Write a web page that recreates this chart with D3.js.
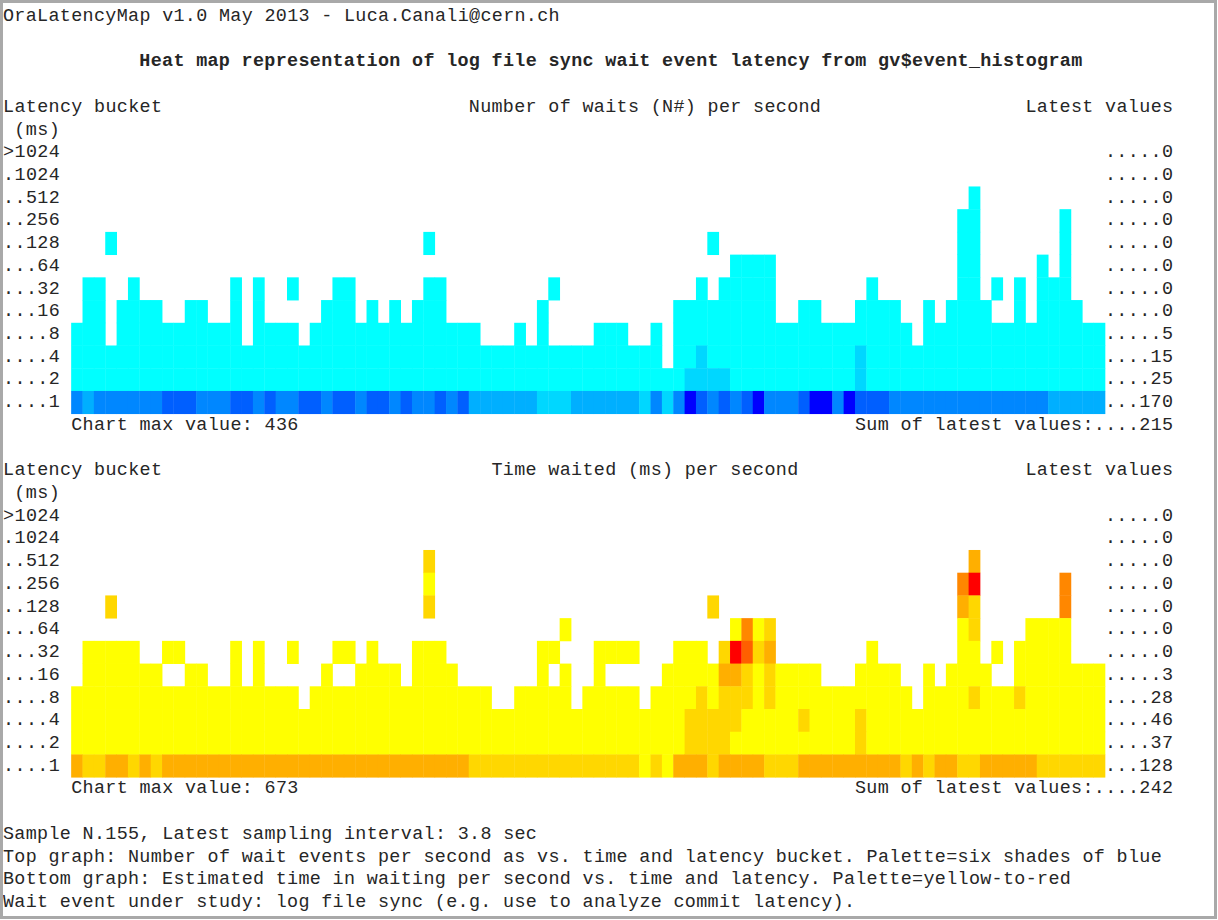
<!DOCTYPE html>
<html>
<head>
<meta charset="utf-8">
<script src="https://cdn.jsdelivr.net/npm/d3@7"></script>
<style>
  body { margin: 0; background: #fff; }
  svg text { font-family: "Liberation Mono", "DejaVu Sans Mono", monospace; white-space: pre; }
</style>
</head>
<body>
<script>
// latency buckets, top row of the map first
const buckets = ['>1024', '.1024', '..512', '..256', '..128', '...64', '...32', '...16', '....8', '....4', '....2', '....1'];

// colour level (0 = no waits, 1..6 = palette shade) per bucket, one digit per sample (91 samples)
const waitsLevels = [
  '0000000000 0000000000 0000000000 0000000000 0000000000 0000000000 0000000000 0000000000 0000000000 0',
  '0000000000 0000000000 0000000000 0000000000 0000000000 0000000000 0000000000 0000000000 0000000000 0',
  '0000000000 0000000000 0000000000 0000000000 0000000000 0000000000 0000000000 0000000001 0000000000 0',
  '0000000000 0000000000 0000000000 0000000000 0000000000 0000000000 0000000000 0000000011 0000000100 0',
  '0001000000 0000000000 0000000000 0100000000 0000000000 0000001000 0000000000 0000000011 0000000100 0',
  '0000000000 0000000000 0000000000 0000000000 0000000000 0000000011 1100000000 0000000011 0000010100 0',
  '0110010000 0000101001 0001100000 0110000000 0010000000 0000010111 1100000000 1000000011 0101011100 0',
  '0110111100 1100101000 0011101010 1110000000 0100000000 0001111111 1100110001 1110010111 1001011110 0',
  '1110111111 1111101111 0111111111 1111110001 0100001110 0101111111 1111111111 1111011111 1111111111 1',
  '1111111111 1111111111 1111111111 1111111111 1111111111 1101121111 1111111112 1111111111 1111111111 1',
  '1111111111 1111111111 1111111111 1111111111 1111111111 1111222211 1111111112 1111111111 1111111111 1',
  '4344444455 5444554544 5545545545 4454533333 3222333333 2424654545 6444566465 5544444444 4444443333 3'
];

const timeLevels = [
  '0000000000 0000000000 0000000000 0000000000 0000000000 0000000000 0000000000 0000000000 0000000000 0',
  '0000000000 0000000000 0000000000 0000000000 0000000000 0000000000 0000000000 0000000000 0000000000 0',
  '0000000000 0000000000 0000000000 0200000000 0000000000 0000000000 0000000000 0000000003 0000000000 0',
  '0000000000 0000000000 0000000000 0100000000 0000000000 0000000000 0000000000 0000000046 0000000400 0',
  '0002000000 0000000000 0000000000 0200000000 0000000000 0000002000 0000000000 0000000032 0000000400 0',
  '0000000000 0000000000 0000000000 0000000000 0001000000 0000000014 1200000000 0000000012 0000111100 0',
  '0111110011 0000101001 0001101000 1110000000 0110001111 0001110265 2300000000 1000000011 0101111100 0',
  '0111111100 1100101000 0010011110 1111000000 0101001000 0011111332 1211110001 1110010111 1001111111 1',
  '1111111111 1111111111 0111111111 1111111001 1111011111 0111121222 1211111111 1111011112 1112111111 1',
  '1111111111 1111111111 1111111111 1111111111 1111111111 1111222221 1111211112 1111111111 1111111111 1',
  '1111111111 1111111111 1111111111 1111111111 1111111111 1111222211 1111111112 1111111111 1111111111 1',
  '3223323233 3333333333 3333333333 3333322222 2222222222 1213332333 3222333333 3332323322 3333322222 2'
];

const waitsLatest = [0, 0, 0, 0, 0, 0, 0, 0, 5, 15, 25, 170];
const timeLatest = [0, 0, 0, 0, 0, 0, 0, 3, 28, 46, 37, 128];
const waitsMax = 436;
const timeMax = 673;

const bluePalette = ['#00ffff', '#00d7ff', '#00afff', '#0087ff', '#005fff', '#0000ff'];
const redPalette = ['#ffff00', '#ffd700', '#ffaf00', '#ff8700', '#ff5f00', '#ff0000'];

// the page is a text terminal: everything sits on a character grid
const W = 1218, H = 920;
const charW = 11.36, lineH = 22.72;
const gridX = 3, gridY = 4.7;
const nCols = 91;
const colX = c => gridX + c * charW;
const lineTop = l => gridY + l * lineH;
const baseY = l => lineTop(l) + 16.2;

const svg = d3.select('body').append('svg').attr('width', W).attr('height', H);
svg.append('rect').attr('width', W).attr('height', H).attr('fill', '#fff');

function txt(line, col, s, bold) {
  svg.append('text')
    .attr('x', colX(col)).attr('y', baseY(line))
    .attr('textLength', s.length * charW).attr('lengthAdjust', 'spacing')
    .attr('font-size', '18.4px')
    .attr('font-weight', bold ? 'bold' : 'normal')
    .attr('fill', '#262626')
    .text(s);
}

txt(0, 0, 'OraLatencyMap v1.0 May 2013 - Luca.Canali@cern.ch');
txt(2, 12, 'Heat map representation of log file sync wait event latency from gv$event_histogram', true);

function heatmap(firstLine, title, titleCol, levels, latest, maxVal, palette) {
  txt(firstLine, 0, 'Latency bucket');
  txt(firstLine, titleCol, title);
  txt(firstLine, 90, 'Latest values');
  txt(firstLine + 1, 1, '(ms)');

  const top = firstLine + 2;
  const x = d3.scaleBand().domain(d3.range(nCols)).range([colX(6), colX(6 + nCols)]);
  const y = d3.scaleBand().domain(buckets).range([lineTop(top), lineTop(top + buckets.length)]);
  const color = d3.scaleOrdinal().domain([1, 2, 3, 4, 5, 6]).range(palette);

  const cells = [];
  buckets.forEach((b, i) => {
    levels[i].replace(/ /g, '').split('').forEach((ch, j) => {
      if (+ch > 0) cells.push({ bucket: b, sample: j, level: +ch });
    });
  });

  svg.append('g').selectAll('rect').data(cells).enter()
    .append('rect')
    .attr('x', d => x(d.sample))
    .attr('y', d => y(d.bucket))
    .attr('width', x.bandwidth() + 0.4)
    .attr('height', y.bandwidth() + 0.4)
    .attr('fill', d => color(d.level));

  buckets.forEach((b, i) => {
    txt(top + i, 0, b);
    txt(top + i, 97, String(latest[i]).padStart(6, '.'));
  });

  const bottom = top + buckets.length;
  txt(bottom, 6, 'Chart max value: ' + maxVal);
  txt(bottom, 75, 'Sum of latest values:' + String(d3.sum(latest)).padStart(7, '.'));
}

heatmap(4, 'Number of waits (N#) per second', 41, waitsLevels, waitsLatest, waitsMax, bluePalette);
heatmap(20, 'Time waited (ms) per second', 43, timeLevels, timeLatest, timeMax, redPalette);

txt(36, 0, 'Sample N.155, Latest sampling interval: 3.8 sec');
txt(37, 0, 'Top graph: Number of wait events per second as vs. time and latency bucket. Palette=six shades of blue');
txt(38, 0, 'Bottom graph: Estimated time in waiting per second vs. time and latency. Palette=yellow-to-red');
txt(39, 0, 'Wait event under study: log file sync (e.g. use to analyze commit latency).');

// window frame of the screenshot
svg.append('rect').attr('x', 1.5).attr('y', 1.5).attr('width', W - 4).attr('height', H - 4)
  .attr('fill', 'none').attr('stroke', '#a9a9a9').attr('stroke-width', 3);
</script>
</body>
</html>
